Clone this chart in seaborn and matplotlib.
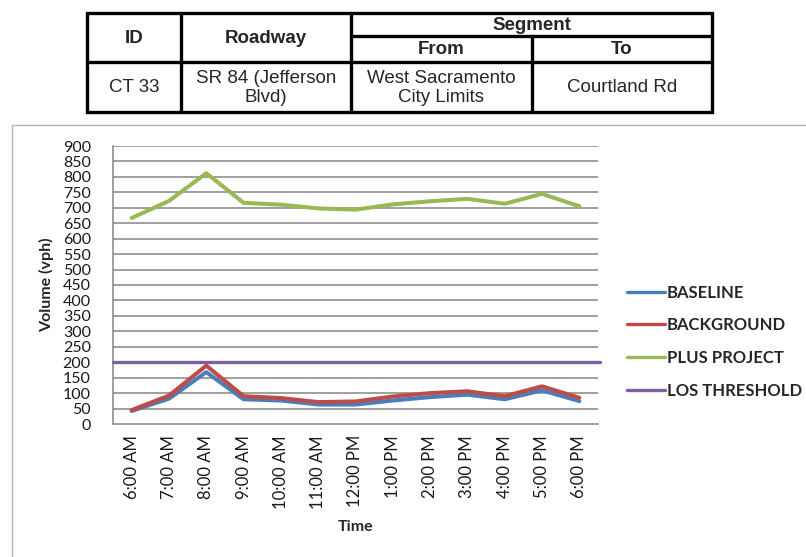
import numpy as np
import pandas as pd
import matplotlib
matplotlib.use("Agg")
import matplotlib.pyplot as plt
from matplotlib.lines import Line2D
from matplotlib.patches import Rectangle
import seaborn as sns

# ---- data -------------------------------------------------------------
times = ["6:00 AM", "7:00 AM", "8:00 AM", "9:00 AM", "10:00 AM", "11:00 AM",
         "12:00 PM", "1:00 PM", "2:00 PM", "3:00 PM", "4:00 PM", "5:00 PM",
         "6:00 PM"]
baseline = [42, 82, 168, 80, 76, 63, 63, 76, 87, 95, 80, 109, 74]
background = [45, 92, 189, 90, 84, 71, 73, 89, 100, 106, 90, 122, 85]
plus_project = [667, 722, 812, 716, 710, 698, 694, 711, 721, 729, 713, 745, 705]
los_threshold = 200

series_names = ["BASELINE", "BACKGROUND", "PLUS PROJECT", "LOS THRESHOLD"]
series_colors = ["#4A7EBB", "#BE4B48", "#98B954", "#7D60A0"]

y_ticks = list(range(0, 901, 50))

table_header = ["ID", "Roadway", "Segment", "From", "To"]
table_row = ["CT 33", "SR 84 (Jefferson\nBlvd)", "West Sacramento\nCity Limits", "Courtland Rd"]

# ---- styling ----------------------------------------------------------
sns.set_style("white")
plt.rcParams["font.family"] = ["Lato", "DejaVu Sans"]

W, H = 806, 557
fig = plt.figure(figsize=(W / 100, H / 100), dpi=100)

# overlay in pixel coordinates for the summary table and chart frame
ov = fig.add_axes([0, 0, 1, 1], zorder=0)
ov.set_xlim(0, W)
ov.set_ylim(H, 0)
ov.axis("off")

ov.add_patch(Rectangle((12, 125), 830, 500, fill=False, edgecolor="#b5b5b5",
                       linewidth=1.0))

tbl_font = ["Liberation Sans", "DejaVu Sans"]
lw_t = 2.4
x0, x1, x2, x3, x4 = 87, 181, 351, 532, 712
y0, y1, y2, y3 = 13, 36, 62, 112
ov.add_patch(Rectangle((x0, y0), x4 - x0, y3 - y0, fill=False,
                       edgecolor="black", linewidth=lw_t))
ov.plot([x1, x1], [y0, y3], color="black", lw=lw_t)
ov.plot([x2, x2], [y0, y3], color="black", lw=lw_t)
ov.plot([x3, x3], [y1, y3], color="black", lw=lw_t)
ov.plot([x2, x4], [y1, y1], color="black", lw=lw_t)
ov.plot([x0, x4], [y2, y2], color="black", lw=lw_t)

hdr = dict(family=tbl_font, fontsize=13.5, fontweight="bold",
           ha="center", va="center")
ov.text((x0 + x1) / 2, (y0 + y2) / 2 + 1, table_header[0], **hdr)
ov.text((x1 + x2) / 2, (y0 + y2) / 2 + 1, table_header[1], **hdr)
ov.text((x2 + x4) / 2, (y0 + y1) / 2 + 1, table_header[2], **hdr)
ov.text((x2 + x3) / 2, (y1 + y2) / 2 + 1, table_header[3], **hdr)
ov.text((x3 + x4) / 2, (y1 + y2) / 2 + 1, table_header[4], **hdr)

body = dict(family=tbl_font, fontsize=13.5, ha="center", va="center",
            linespacing=1.15)
cells_x = [(x0 + x1) / 2, (x1 + x2) / 2, (x2 + x3) / 2, (x3 + x4) / 2]
for cx, txt in zip(cells_x, table_row):
    ov.text(cx, (y2 + y3) / 2 + 1, txt, **body)

# ---- line chart -------------------------------------------------------
ax_l, ax_r, ax_b, ax_t = 113, 598, 424, 146
ax = fig.add_axes([ax_l / W, 1 - ax_b / H, (ax_r - ax_l) / W, (ax_b - ax_t) / H],
                  zorder=1)
ax.set_facecolor("none")

pos = np.arange(len(times))
df = pd.DataFrame({
    "pos": np.tile(pos, 3),
    "Volume": baseline + background + plus_project,
    "Series": np.repeat(series_names[:3], len(times)),
})

grid_c = "#858585"
ax.set_ylim(0, 900)
ax.set_xlim(-0.5, len(times) - 0.5)
ax.set_yticks(y_ticks)
for yv in y_ticks[1:]:
    ax.axhline(yv, color=grid_c, linewidth=1.1, zorder=0)

sns.lineplot(data=df, x="pos", y="Volume", hue="Series",
             hue_order=series_names[:3], palette=series_colors[:3],
             linewidth=2.9, legend=False, ax=ax, zorder=3)
ax.axhline(los_threshold, xmin=0, xmax=1.005, color=series_colors[3],
           linewidth=2.4, zorder=4, clip_on=False)

for s in ["top", "right"]:
    ax.spines[s].set_visible(False)
for s in ["left", "bottom"]:
    ax.spines[s].set_color(grid_c)
    ax.spines[s].set_linewidth(1.1)

ax.set_xticks(pos)
ax.set_xticklabels(times, rotation=90, fontsize=12, color="#1a1a1a")
ax.set_xticks(np.arange(-0.5, len(times)), minor=True)
ax.tick_params(axis="x", which="major", length=0, pad=8)
ax.tick_params(axis="x", which="minor", length=4, color=grid_c, width=1.1,
               direction="out")
ax.tick_params(axis="y", which="major", length=4, color=grid_c, width=1.1,
               direction="out", pad=12, labelsize=11.5, labelcolor="#1a1a1a")
for lab in ax.get_xticklabels():
    lab.set_va("top")

ax.set_xlabel("Time", fontsize=11.5, fontweight="bold", va="center")
ax.xaxis.set_label_coords(0.5, -(527 - ax_b) / (ax_b - ax_t))
ax.set_ylabel("Volume (vph)", fontsize=11.5, fontweight="bold", va="center")
ax.yaxis.set_label_coords(-(ax_l - 47) / (ax_r - ax_l), 0.5)

handles = [Line2D([], [], color=c, linewidth=2.4) for c in series_colors]
fig.legend(handles, series_names, loc="center left",
           bbox_to_anchor=(627 / W, 1 - 341.5 / H), frameon=False,
           prop=dict(family=["Lato", "DejaVu Sans"], weight="bold", size=12),
           handlelength=2.3, handletextpad=0.1, labelspacing=1.0,
           borderpad=0, borderaxespad=0)

fig.savefig("out.png", dpi=100)
